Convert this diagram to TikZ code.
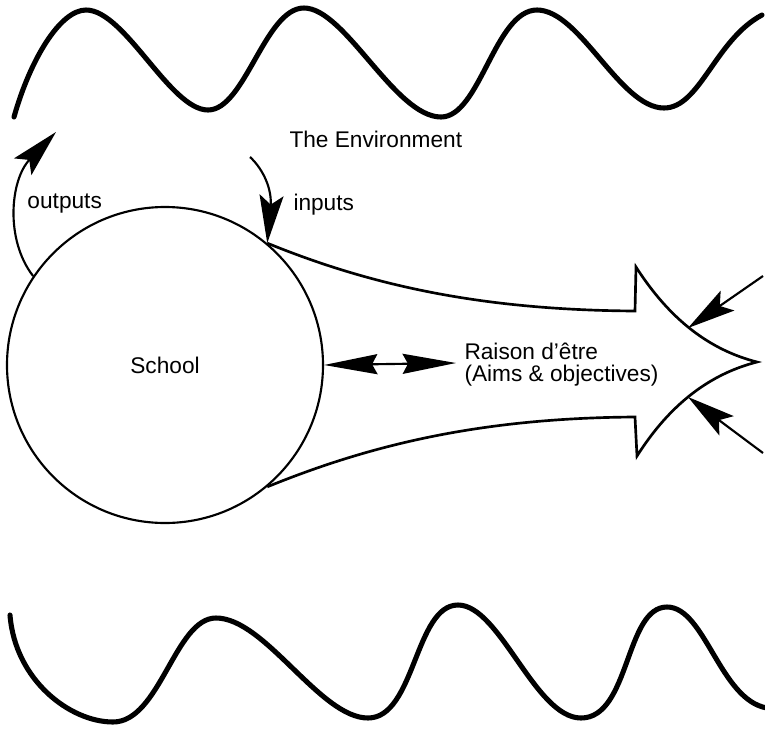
\documentclass[tikz,border=0pt]{standalone}
\usepackage{fontspec}
\setmainfont{Liberation Sans}
\usetikzlibrary{arrows.meta}

\tikzset{every picture/.style={line width=0.75pt}}

\begin{document}
\begin{tikzpicture}[x=0.75pt,y=0.75pt,yscale=-1,xscale=1,
  wave/.style={line width=3.8pt,line cap=round,line join=round},
  outline/.style={line width=2pt,line join=miter},
  bigtip/.style={line width=1.6pt,-{Stealth[length=36pt,width=18pt,inset=7pt]}},
  twotip/.style={line width=1.6pt,{Stealth[length=40pt,width=15pt,inset=4pt]}-{Stealth[length=40pt,width=15pt,inset=4pt]}},
  label/.style={anchor=base west,inner sep=0.75pt,font=\fontsize{17}{16.5}\selectfont}]
\useasboundingbox (0,0) rectangle (765,729);

%Curve Lines [id:wave top]
\draw [wave] (14,117) .. controls (30,60) and (60,10) .. (86,10)
  .. controls (125,10) and (170,110) .. (208,110)
  .. controls (245,110) and (265,8) .. (304,8)
  .. controls (345,8) and (395,117) .. (441,117)
  .. controls (480,117) and (495,10) .. (537,10)
  .. controls (580,10) and (620,108) .. (664,108)
  .. controls (700,108) and (715,40) .. (762,15);
%Curve Lines [id:wave bottom]
\draw [wave] (10,615) .. controls (15,680) and (70,722) .. (113,722)
  .. controls (160,722) and (175,618) .. (216,618)
  .. controls (265,618) and (320,718) .. (368,718)
  .. controls (415,718) and (415,605) .. (458,605)
  .. controls (500,605) and (535,718) .. (581,718)
  .. controls (630,718) and (625,607) .. (667,607)
  .. controls (705,607) and (720,700) .. (767,708);

%Shape: Circle [id:school]
\node [circle,draw,line width=1.6pt,minimum size=237pt,inner sep=0pt,font=\fontsize{17}{20}\selectfont] (school) at (165,365) {School};

%Shape: Arrow [id:aims]
\draw [outline] (school.50) .. controls (370,285) and (480,310) .. (635,311) -- (636,267)
  .. controls (670,320) and (710,350) .. (757,362) coordinate (tip)
  .. controls (710,374) and (670,404) .. (637,456) -- (635,417)
  .. controls (480,418) and (370,445) .. (school.-50);
\coordinate (barbU) at (688,328);
\coordinate (barbL) at (688,397);
\coordinate (fromU) at (763,276);
\coordinate (fromL) at (763,453);

% Text Node
\draw (288,147) node [label] (env) {The Environment};
% Text Node
\draw (26,208) node [label] (outlbl) {outputs};
% Text Node
\draw (292,210) node [label] (inlbl) {inputs};
% Text Node
\draw (463,381) node [label,align=left] (raison) {Raison d’être\\(Aims \& objectives)};

\coordinate (outend) at (56,132);
\coordinate (instart) at (250,157);
\coordinate (raisonw) at (456,363);

%Curve Lines [id:outputs]
\draw [bigtip] (school.146) .. controls (5,240) and (10,180) .. (outend);
%Curve Lines [id:inputs]
\draw [bigtip] (instart) .. controls (264,170) and (272,190) .. (school.50);
%Straight Lines [id:link]
\draw [twotip] (school.east) -- (raisonw);
%Straight Lines [id:press]
\draw [bigtip] (fromU) -- (barbU);
\draw [bigtip] (fromL) -- (barbL);

\end{tikzpicture}
\end{document}
